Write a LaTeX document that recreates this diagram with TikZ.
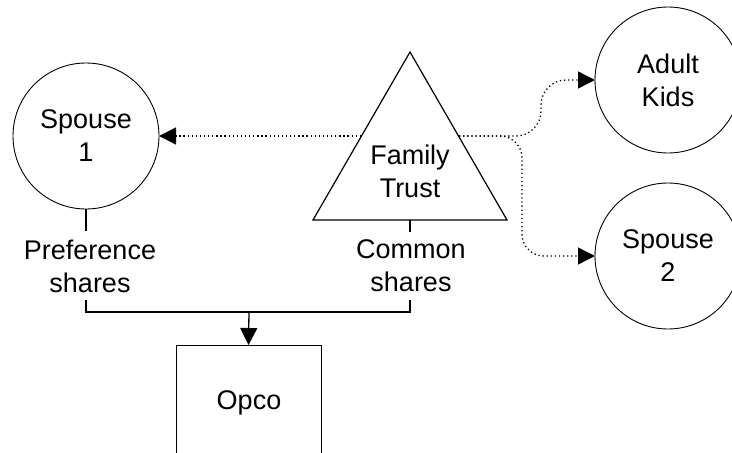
\documentclass[tikz,border=0pt]{standalone}
\usepackage{fontspec}
\setmainfont{Liberation Sans}
\usetikzlibrary{arrows.meta,shapes.geometric}
\begin{document}
\begin{tikzpicture}[x=1pt,y=-1pt,
  ent/.style={circle,draw,line width=0.9pt,minimum size=146pt,inner sep=0pt,outer sep=0pt,align=center,font=\fontsize{27}{33}\selectfont},
  lbl/.style={align=center,font=\fontsize{27}{33}\selectfont,inner sep=0pt},
  conn/.style={line width=1.3pt},
  tip/.style={-{Triangle[length=17pt,width=17pt]}},
  dotline/.style={line width=1.3pt,dash pattern=on 1.3pt off 2.8pt,-{Triangle[length=17pt,width=17pt]}},
  boxst/.style={draw,line width=0.9pt,minimum width=145pt,minimum height=130pt,inner sep=0pt,outer sep=0pt}]
\useasboundingbox (0,0) rectangle (732,453);
% entities
\node[ent] (spouse1) at (86,136) {Spouse\\1};
\node[ent] (kids) at (668,80) {Adult\\Kids};
\node[ent] (spouse2) at (668,256) {Spouse\\2};
\node[draw,line width=1.2pt,regular polygon,regular polygon sides=3,minimum size=224pt,inner sep=0pt,outer sep=0pt] (trust) at (410,164) {};
\node[lbl] (trustl) at (410,171) {Family\\Trust};
\node[boxst] (opco) at (248.5,410) {};
\node[lbl] (opcol) at (249,403) {Opco};
% share labels
\node[lbl] (pref) at (90,266) {Preference\\shares};
\node[lbl] (common) at (411,266) {Common\\shares};
% coordinates
\coordinate (tL) at (361,136);
\coordinate (tR) at (459,136);
\coordinate (pb) at (86,300);
\coordinate (cb) at (410,300);
\coordinate (mid) at (249,312);
% dotted arrows
\draw[dotline] (tL) -- (spouse1.east);
\draw[dotline,rounded corners=25pt] (tR) -- (541,136) -- (541,80) -- (kids.west);
\draw[dotline,rounded corners=22pt] (tR) -- (522,136) -- (522,256) -- (spouse2.west);
% share connectors
\draw[conn] (spouse1.south) -- ++(0,22);
\draw[conn] (trust.south) -- ++(0,12);
\draw[conn] (pb) |- (mid) -| (cb);
\draw[conn,tip] (mid) -- (opco.north);
\end{tikzpicture}
\end{document}
